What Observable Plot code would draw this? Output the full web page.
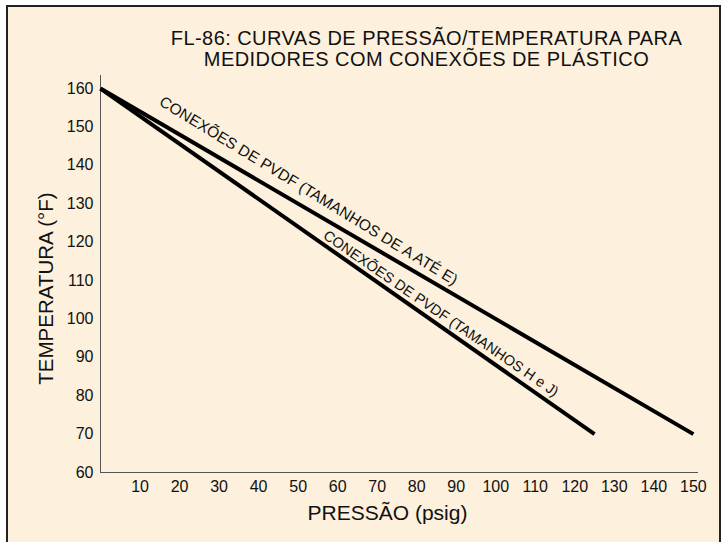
<!DOCTYPE html>
<html>
<head>
<meta charset="utf-8">
<script src="https://cdn.jsdelivr.net/npm/d3@7"></script>
<script src="https://cdn.jsdelivr.net/npm/@observablehq/plot@0.6"></script>
<style>
  html, body { margin: 0; padding: 0; background: #ffffff; }
  body { width: 721px; height: 542px; overflow: hidden; position: relative;
         font-family: "Liberation Sans", Arial, Helvetica, sans-serif; }
  #frame { position: absolute; left: 6px; top: 5px; width: 711px; height: 600px;
           border: 2px solid #222; border-bottom: none; background: #fdf0dc; }
  #title { position: absolute; left: 126px; width: 601px; top: 28px; text-align: center;
           font-size: 20px; line-height: 20.7px; letter-spacing: 0.45px; color: #111; }
  #chart { position: absolute; left: 0; top: 0; }
</style>
</head>
<body>
<div id="frame"></div>
<div id="title">FL-86: CURVAS DE PRESSÃO/TEMPERATURA PARA<br>MEDIDORES COM CONEXÕES DE PLÁSTICO</div>
<div id="chart"></div>
<script>
// ---- data ----
const pressureAE = [0, 150];
const temperatureAE = [160, 70];
const labelAE = "CONEXÕES DE PVDF (TAMANHOS DE A ATÉ E)";

const pressureHJ = [0, 125];
const temperatureHJ = [160, 70];
const labelHJ = "CONEXÕES DE PVDF (TAMANHOS H e J)";

const xTicks = [10, 20, 30, 40, 50, 60, 70, 80, 90, 100, 110, 120, 130, 140, 150];
const yTicks = [60, 70, 80, 90, 100, 110, 120, 130, 140, 150, 160];
const xTitle = "PRESSÃO (psig)";
const yTitle = "TEMPERATURA (°F)";

// ---- build ----
const seriesAE = pressureAE.map((p, i) => ({p, t: temperatureAE[i]}));
const seriesHJ = pressureHJ.map((p, i) => ({p, t: temperatureHJ[i]}));
function along(ps, ts, f) {
  return {p: ps[0] + f * (ps[1] - ps[0]), t: ts[0] + f * (ts[1] - ts[0])};
}
const anchorAE = along(pressureAE, temperatureAE, 0.351);
const anchorHJ = along(pressureHJ, temperatureHJ, 0.689);

const font = "'Liberation Sans', Arial, Helvetica, sans-serif";
const chart = Plot.plot({
  width: 721,
  height: 542,
  marginLeft: 100,
  marginRight: 23,
  marginTop: 75,
  marginBottom: 70,
  style: {background: "transparent", fontFamily: font, color: "#111", overflow: "visible"},
  x: {domain: [0, 151.3], ticks: xTicks},
  y: {domain: [60, 163.4], ticks: yTicks},
  marks: [
    Plot.ruleX([0], {stroke: "#555", strokeWidth: 1}),
    Plot.ruleY([60], {stroke: "#555", strokeWidth: 1}),
    Plot.axisX({ticks: xTicks, tickSize: 0, tickPadding: 8, fontSize: 16, label: null, fill: "#111"}),
    Plot.axisY({ticks: yTicks, tickSize: 0, tickPadding: 7, fontSize: 16, label: null, fill: "#111"}),
    Plot.line(seriesAE, {x: "p", y: "t", stroke: "#000", strokeWidth: 4, strokeLinecap: "butt"}),
    Plot.line(seriesHJ, {x: "p", y: "t", stroke: "#000", strokeWidth: 4, strokeLinecap: "butt"}),
    Plot.text([anchorAE], {x: "p", y: "t", text: () => labelAE, rotate: 31.5, dy: -19,
      fontSize: 15.5, textAnchor: "middle", lineAnchor: "middle", fill: "#111"}),
    Plot.text([anchorHJ], {x: "p", y: "t", text: () => labelHJ, rotate: 34.5, dy: -13,
      fontSize: 14.5, textAnchor: "middle", lineAnchor: "middle", fill: "#111"}),
    Plot.text([xTitle], {frameAnchor: "bottom", text: d => d, dx: -12, dy: 41,
      fontSize: 21, textAnchor: "middle", lineAnchor: "middle", fill: "#111"}),
    Plot.text([yTitle], {frameAnchor: "left", text: d => d, dx: -54.5, dy: 14.5, rotate: -90,
      fontSize: 20.5, textAnchor: "middle", lineAnchor: "middle", fill: "#111"})
  ]
});
document.getElementById("chart").appendChild(chart);
</script>
</body>
</html>
